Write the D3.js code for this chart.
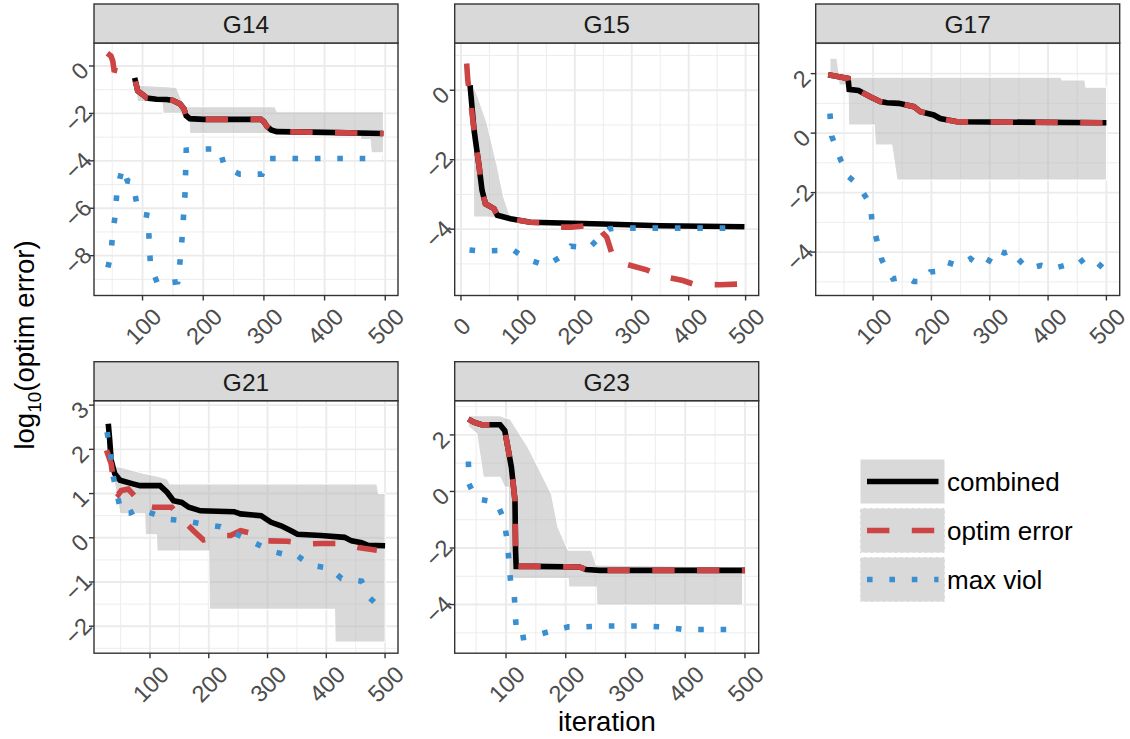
<!DOCTYPE html>
<html>
<head>
<meta charset="utf-8">
<script src="https://cdn.jsdelivr.net/npm/d3@7"></script>
<style>
body { margin: 0; background: #fff; }
text { font-family: "Liberation Sans", Arial, sans-serif; }
</style>
</head>
<body>
<svg width="1130" height="739"></svg>
<script>
// ---- data (iteration, log10 value) ----

// G14
const g14CombX = [87, 92, 100, 107, 123, 140, 150, 162, 168, 172, 178, 200, 295, 300, 305, 312, 321, 400, 497];
const g14CombY = [-0.5, -1.05, -1.2, -1.35, -1.4, -1.41, -1.45, -1.6, -1.8, -2.1, -2.22, -2.25, -2.25, -2.35, -2.55, -2.7, -2.77, -2.8, -2.85];
const g14OptX = [42, 48, 51, 53, 64, 80, 87, 92, 100, 107, 123, 140, 150, 162, 168, 172, 178, 200, 295, 300, 305, 312, 321, 400, 497];
const g14OptY = [0.54, 0.42, 0.2, -0.17, -0.24, -0.38, -0.5, -1.05, -1.2, -1.35, -1.4, -1.41, -1.45, -1.6, -1.8, -2.1, -2.22, -2.25, -2.25, -2.35, -2.55, -2.7, -2.77, -2.8, -2.85];
const g14ViolX = [43, 48, 51, 55, 58, 67, 75, 84, 90, 100, 108, 104, 110, 113, 125, 158, 162, 165, 170, 172, 191, 227, 235, 260, 297, 309, 495];
const g14ViolY = [-8.5, -7.9, -7.0, -6.3, -5.2, -4.3, -4.85, -4.9, -5.75, -6.05, -6.1, -6.7, -6.9, -8.4, -9.2, -9.1, -8.2, -7.3, -5.4, -3.55, -3.5, -3.5, -4.25, -4.56, -4.56, -3.9, -3.9];
const g14BandX = [87, 90, 92, 132, 134, 156, 162, 170, 176, 178, 318, 322, 458, 460, 475, 477, 497];
const g14BandHi = [-0.45, -0.8, -0.81, -0.86, -0.86, -0.9, -1.3, -1.72, -1.72, -1.72, -1.72, -1.93, -1.93, -1.93, -1.93, -1.93, -1.93];
const g14BandLo = [-0.6, -1.2, -1.5, -1.5, -2.0, -2.0, -2.0, -2.0, -2.0, -2.85, -2.85, -2.85, -2.85, -3.1, -3.1, -3.66, -3.66];

// G15
const g15CombX = [16, 23, 32, 37, 43, 58, 64, 87, 122, 250, 350, 498];
const g15CombY = [0.14, -1.15, -2.21, -2.88, -3.27, -3.41, -3.6, -3.7, -3.8, -3.85, -3.9, -3.93];
const g15OptX = [10, 12, 16, 23, 32, 37, 43, 58, 64, 87, 122, 150, 175, 194, 238, 250, 256, 267, 288, 326, 349, 390, 408, 454, 489];
const g15OptY = [0.77, 0.29, -0.2, -1.15, -2.21, -2.88, -3.27, -3.41, -3.6, -3.7, -3.8, -3.82, -3.94, -3.94, -3.87, -4.13, -4.23, -4.8, -5.0, -5.17, -5.34, -5.48, -5.58, -5.6, -5.58];
const g15ViolX = [15, 33, 54, 92, 115, 149, 175, 193, 225, 247, 261, 274, 490];
const g15ViolY = [-4.6, -4.63, -4.62, -4.6, -4.86, -5.05, -4.8, -4.49, -4.54, -4.18, -3.99, -3.97, -3.97];
const g15BandX = [22, 30, 46, 64, 75, 86, 120, 200, 300, 498];
const g15BandHi = [0.14, -0.2, -0.96, -2.21, -3.08, -3.6, -3.72, -3.8, -3.86, -3.88];
const g15BandLo = [-3.65, -3.65, -3.65, -3.68, -3.7, -3.72, -3.85, -3.9, -3.96, -4.0];

// G17
const g17CombX = [23, 57, 59, 75, 95, 112, 124, 144, 170, 181, 204, 215, 244, 500];
const g17CombY = [1.96, 1.84, 1.47, 1.43, 1.22, 1.06, 1.02, 1.0, 0.89, 0.72, 0.61, 0.49, 0.38, 0.35];
const g17ViolX = [26, 29, 39, 45, 51, 57, 75, 89, 96, 98, 102, 106, 115, 121, 134, 155, 170, 185, 198, 213, 227, 244, 267, 282, 296, 310, 325, 339, 348, 365, 388, 408, 428, 448, 466, 480, 498];
const g17ViolY = [0.66, -0.1, -0.63, -0.93, -1.13, -1.45, -1.75, -2.2, -2.48, -2.96, -3.27, -3.57, -4.26, -4.5, -4.9, -4.82, -4.99, -4.99, -4.67, -4.64, -4.34, -4.45, -4.22, -4.45, -4.39, -3.91, -4.03, -3.94, -4.22, -4.56, -4.45, -4.56, -4.45, -4.45, -4.17, -4.28, -4.6];
const g17BandX = [26, 38, 42, 57, 58, 102, 104, 132, 141, 422, 424, 463, 465, 500];
const g17BandHi = [2.52, 2.52, 1.95, 1.9, 1.88, 1.88, 1.88, 1.88, 1.88, 1.88, 1.79, 1.79, 1.54, 1.54];
const g17BandLo = [2.0, 2.0, 1.62, 1.62, 0.27, 0.27, -0.4, -0.4, -1.58, -1.58, -1.58, -1.58, -1.58, -1.58];

// G21
const g21CombX = [29, 31, 34, 40, 49, 71, 83, 117, 129, 140, 154, 166, 186, 243, 254, 289, 306, 323, 340, 351, 391, 431, 443, 460, 471, 500];
const g21CombY = [2.58, 2.28, 1.75, 1.45, 1.3, 1.22, 1.18, 1.18, 1.03, 0.84, 0.8, 0.69, 0.61, 0.59, 0.54, 0.5, 0.35, 0.27, 0.16, 0.08, 0.05, 0.01, -0.07, -0.11, -0.17, -0.18];
const g21OptX = [26, 34, 40, 46, 51, 63, 89, 106, 137, 149, 157, 174, 191, 226, 237, 254, 289, 300, 334, 369, 391, 426, 454, 486];
const g21OptY = [1.98, 1.67, 1.07, 0.98, 1.07, 1.1, 0.73, 0.69, 0.69, 0.5, 0.39, 0.16, -0.05, 0.05, 0.05, 0.16, 0.05, -0.07, -0.08, -0.14, -0.13, -0.13, -0.22, -0.28];
const g21ViolX = [27, 33, 37, 44, 51, 66, 80, 106, 131, 157, 189, 220, 249, 277, 306, 334, 349, 373, 406, 426, 460, 474, 493];
const g21ViolY = [2.39, 1.89, 1.41, 0.99, 0.56, 0.56, 0.65, 0.54, 0.42, 0.39, 0.31, 0.25, 0.07, -0.11, -0.3, -0.39, -0.39, -0.62, -0.69, -0.92, -0.98, -1.36, -1.6];
const g21BandX = [26, 37, 43, 49, 91, 92, 111, 112, 129, 134, 200, 201, 414, 415, 486, 489, 500];
const g21BandHi = [2.66, 1.6, 1.6, 1.6, 1.45, 1.45, 1.4, 1.4, 1.33, 1.22, 1.22, 1.22, 1.22, 1.22, 1.22, 1.0, 1.0];
const g21BandLo = [2.0, 1.4, 1.0, 0.54, 0.54, 0.07, 0.07, -0.3, -0.3, -0.3, -0.3, -1.62, -1.62, -2.36, -2.36, -2.36, -2.36];

// G23
const g23CombX = [37, 46, 59, 90, 98, 104, 109, 115, 116, 117, 146, 223, 234, 257, 500];
const g23CombY = [2.56, 2.45, 2.36, 2.36, 2.15, 1.45, 0.86, -0.32, -2.08, -2.65, -2.65, -2.67, -2.76, -2.79, -2.79];
const g23ViolX = [37, 38, 50, 84, 96, 102, 105, 108, 114, 116, 119, 143, 172, 204, 229, 256, 290, 329, 362, 398, 434, 490];
const g23ViolY = [1.06, 0.27, -0.26, -0.38, -0.96, -1.73, -2.49, -3.29, -3.73, -4.53, -5.2, -5.12, -4.96, -4.79, -4.79, -4.76, -4.76, -4.76, -4.79, -4.88, -4.88, -4.88];
const g23BandX = [37, 51, 62, 90, 98, 104, 105, 107, 137, 176, 187, 204, 205, 243, 251, 252, 496];
const g23BandHi = [2.68, 2.68, 2.68, 2.68, 2.62, 2.58, 2.57, 2.56, 1.56, -0.08, -1.26, -2.08, -2.08, -2.08, -2.6, -2.6, -2.67];
const g23BandLo = [2.3, 2.04, 0.5, 0.5, 0.15, 0.15, -3.08, -3.08, -3.08, -3.08, -3.08, -3.08, -3.38, -3.38, -3.38, -4.02, -4.02];

// tick labels
const xTicksAll = [0, 100, 200, 300, 400, 500];
const g14YTicks = [-8, -6, -4, -2, 0];
const g15YTicks = [-4, -2, 0];
const g17YTicks = [-4, -2, 0, 2];
const g21YTicks = [-2, -1, 0, 1, 2, 3];
const g23YTicks = [-4, -2, 0, 2];

const seriesNames = ["combined", "optim error", "max viol"];

// ---- layout ----
const colLeft = [94, 454.7, 815.7],
    rowTop = [4, 361.7],
    panelW = 304,
    stripH = 39,
    panelH = 252.5,
    tickFont = 23.5;

const colors = { combined: "#000000", optim: "#cd4444", viol: "#3a8fd0" };
const lw = 5.6;

const panels = [
    { name: "G14", col: 0, row: 0, xDom: [20, 521], yDom: [-9.68, 0.97], yTicks: g14YTicks,
      band: [g14BandX, g14BandLo, g14BandHi], comb: [g14CombX, g14CombY], opt: [g14OptX, g14OptY], viol: [g14ViolX, g14ViolY] },
    { name: "G15", col: 1, row: 0, xDom: [-11, 523], yDom: [-5.91, 1.36], yTicks: g15YTicks,
      band: [g15BandX, g15BandLo, g15BandHi], comb: [g15CombX, g15CombY], opt: [g15OptX, g15OptY], viol: [g15ViolX, g15ViolY] },
    { name: "G17", col: 2, row: 0, xDom: [1.6, 522.8], yDom: [-5.46, 3.03], yTicks: g17YTicks,
      band: [g17BandX, g17BandLo, g17BandHi], comb: [g17CombX, g17CombY], opt: [g17CombX, g17CombY], viol: [g17ViolX, g17ViolY] },
    { name: "G21", col: 0, row: 1, xDom: [4.7, 522], yDom: [-2.61, 3.1], yTicks: g21YTicks,
      band: [g21BandX, g21BandLo, g21BandHi], comb: [g21CombX, g21CombY], opt: [g21OptX, g21OptY], viol: [g21ViolX, g21ViolY] },
    { name: "G23", col: 1, row: 1, xDom: [14.1, 523], yDom: [-5.72, 3.21], yTicks: g23YTicks,
      band: [g23BandX, g23BandLo, g23BandHi], comb: [g23CombX, g23CombY], opt: [g23CombX, g23CombY], viol: [g23ViolX, g23ViolY] }
];

let svg = d3.select("svg");
let defs = svg.append("defs");

function fmt(d) {
    return d < 0 ? "\u2212" + Math.abs(d) : String(d);
}

panels.forEach(function (p, i) {
    let left = colLeft[p.col],
        top = rowTop[p.row] + stripH,
        bottom = top + panelH;

    let x = d3.scaleLinear().domain(p.xDom).range([left, left + panelW]);
    let y = d3.scaleLinear().domain(p.yDom).range([bottom, top]);

    let g = svg.append("g");

    // panel background + grid
    g.append("rect")
        .attr("x", left).attr("y", top)
        .attr("width", panelW).attr("height", panelH)
        .attr("fill", "#fff");

    let xt = xTicksAll.filter(t => t >= p.xDom[0] && t <= p.xDom[1]);
    let xMinor = d3.range(-50, 600, 100).filter(t => t >= p.xDom[0] && t <= p.xDom[1]);
    let step = p.yTicks[1] - p.yTicks[0];
    let yMinor = d3.range(p.yTicks[0] - step / 2, p.yTicks[p.yTicks.length - 1] + step, step)
        .filter(t => t >= p.yDom[0] && t <= p.yDom[1]);

    g.selectAll(".xminor").data(xMinor).enter().append("line")
        .attr("x1", d => x(d)).attr("x2", d => x(d))
        .attr("y1", top).attr("y2", bottom)
        .attr("stroke", "#ebebeb").attr("stroke-width", 0.9);
    g.selectAll(".yminor").data(yMinor).enter().append("line")
        .attr("y1", d => y(d)).attr("y2", d => y(d))
        .attr("x1", left).attr("x2", left + panelW)
        .attr("stroke", "#ebebeb").attr("stroke-width", 0.9);
    g.selectAll(".xmajor").data(xt).enter().append("line")
        .attr("x1", d => x(d)).attr("x2", d => x(d))
        .attr("y1", top).attr("y2", bottom)
        .attr("stroke", "#ebebeb").attr("stroke-width", 1.9);
    g.selectAll(".ymajor").data(p.yTicks).enter().append("line")
        .attr("y1", d => y(d)).attr("y2", d => y(d))
        .attr("x1", left).attr("x2", left + panelW)
        .attr("stroke", "#ebebeb").attr("stroke-width", 1.9);

    // clip
    defs.append("clipPath").attr("id", "clip" + i)
        .append("rect")
        .attr("x", left).attr("y", top)
        .attr("width", panelW).attr("height", panelH);

    let plot = g.append("g").attr("clip-path", "url(#clip" + i + ")");

    // ribbon
    let area = d3.area()
        .x(d => x(d[0]))
        .y0(d => y(d[1]))
        .y1(d => y(d[2]));
    plot.append("path")
        .datum(d3.zip(p.band[0], p.band[1], p.band[2]))
        .attr("d", area)
        .attr("fill", "#b3b3b3")
        .attr("fill-opacity", 0.5)
        .attr("stroke", "#fff")
        .attr("stroke-width", 1.1);

    let line = d3.line()
        .x(d => x(d[0]))
        .y(d => y(d[1]));

    plot.append("path")
        .datum(d3.zip(p.comb[0], p.comb[1]))
        .attr("d", line)
        .attr("fill", "none")
        .attr("stroke", colors.combined)
        .attr("stroke-width", lw);

    plot.append("path")
        .datum(d3.zip(p.opt[0], p.opt[1]))
        .attr("d", line)
        .attr("fill", "none")
        .attr("stroke", colors.optim)
        .attr("stroke-width", lw)
        .attr("stroke-dasharray", "22.4,22.4");

    plot.append("path")
        .datum(d3.zip(p.viol[0], p.viol[1]))
        .attr("d", line)
        .attr("fill", "none")
        .attr("stroke", colors.viol)
        .attr("stroke-width", lw)
        .attr("stroke-dasharray", "5.6,16.8");

    // panel border
    g.append("rect")
        .attr("x", left).attr("y", top)
        .attr("width", panelW).attr("height", panelH)
        .attr("fill", "none")
        .attr("stroke", "#333333").attr("stroke-width", 1.4);

    // strip
    g.append("rect")
        .attr("x", left).attr("y", rowTop[p.row])
        .attr("width", panelW).attr("height", stripH)
        .attr("fill", "#d9d9d9")
        .attr("stroke", "#333333").attr("stroke-width", 1.4);
    g.append("text")
        .attr("x", left + panelW / 2)
        .attr("y", rowTop[p.row] + stripH / 2 + 1)
        .attr("text-anchor", "middle")
        .attr("dominant-baseline", "central")
        .attr("font-size", 24.5)
        .attr("fill", "#1a1a1a")
        .text(p.name);

    // ticks + labels
    g.selectAll(".xtick").data(xt).enter().append("line")
        .attr("x1", d => x(d)).attr("x2", d => x(d))
        .attr("y1", bottom).attr("y2", bottom + 5)
        .attr("stroke", "#333333").attr("stroke-width", 1.4);
    g.selectAll(".xlab").data(xt).enter().append("text")
        .attr("transform", d => "translate(" + (x(d) + 1) + "," + (bottom + 31) + ")rotate(-45)")
        .attr("text-anchor", "middle")
        .attr("dominant-baseline", "central")
        .attr("font-size", tickFont)
        .attr("fill", "#4d4d4d")
        .text(d => d);

    g.selectAll(".ytick").data(p.yTicks).enter().append("line")
        .attr("y1", d => y(d)).attr("y2", d => y(d))
        .attr("x1", left - 5).attr("x2", left)
        .attr("stroke", "#333333").attr("stroke-width", 1.4);
    g.selectAll(".ylab").data(p.yTicks).enter().append("text")
        .attr("transform", d => "translate(" + (left - 12 - 2 * fmt(d).length) + "," + (y(d) + 5) + ")rotate(-45)")
        .attr("text-anchor", "middle")
        .attr("dominant-baseline", "central")
        .attr("font-size", tickFont)
        .attr("fill", "#4d4d4d")
        .text(fmt);
});

// axis titles
svg.append("text")
    .attr("x", (colLeft[0] + colLeft[2] + panelW) / 2)
    .attr("y", 731)
    .attr("text-anchor", "middle")
    .attr("font-size", 27.5)
    .attr("fill", "#000")
    .text("iteration");

let yt = svg.append("text")
    .attr("transform", "translate(34,345)rotate(-90)")
    .attr("text-anchor", "middle")
    .attr("font-size", 27.5)
    .attr("fill", "#000");
yt.append("tspan").text("log");
yt.append("tspan").attr("font-size", 19).attr("dy", 7).text("10");
yt.append("tspan").attr("dy", -7).text("(optim error)");

// legend
const legendY = [459, 508, 557];
const legendStyle = [
    { color: colors.combined, dash: null, border: null },
    { color: colors.optim, dash: "22.4,22.4", border: "4,2" },
    { color: colors.viol, dash: "5.6,16.8", border: "4,2" }
];
let lg = svg.append("g");
seriesNames.forEach(function (name, i) {
    let ky = legendY[i];
    lg.append("rect")
        .attr("x", 860).attr("y", ky)
        .attr("width", 85).attr("height", 45)
        .attr("fill", "#d9d9d9")
        .attr("stroke", "#fff").attr("stroke-width", 1)
        .attr("stroke-dasharray", legendStyle[i].border);
    lg.append("line")
        .attr("x1", 867).attr("x2", 938.5)
        .attr("y1", ky + 22.5).attr("y2", ky + 22.5)
        .attr("stroke", legendStyle[i].color)
        .attr("stroke-width", lw)
        .attr("stroke-dasharray", legendStyle[i].dash);
    lg.append("text")
        .attr("x", 947).attr("y", ky + 22.5)
        .attr("dominant-baseline", "central")
        .attr("font-size", 26)
        .attr("fill", "#000")
        .text(name);
});
</script>
</body>
</html>
